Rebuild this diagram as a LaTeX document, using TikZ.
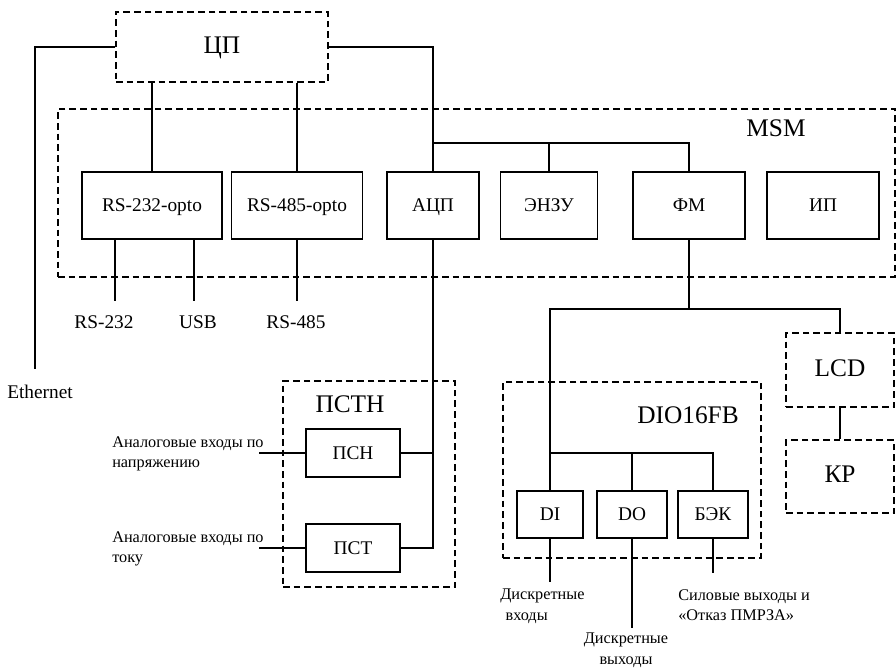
\documentclass[tikz,border=0pt]{standalone}
\usepackage{fontspec}
\setmainfont{Liberation Serif}
\usepackage{tikz}

\tikzset{
  blk/.style={draw, line width=1pt, inner sep=0pt, text height=0.9em, text depth=0pt},
  dblk/.style={blk, dash pattern=on 5pt off 3pt},
  big/.style={font=\fontsize{19}{22}\selectfont},
  mid/.style={font=\fontsize{14.5}{16}\selectfont},
  note/.style={font=\fontsize{12.2}{15.5}\selectfont, align=left, anchor=north west, inner sep=0pt},
  wire/.style={line width=1pt}
}

\begin{document}
\begin{tikzpicture}[x=0.75pt, y=-0.75pt]
  \useasboundingbox (0,0) rectangle (896,669);

  % frames
  \node[dblk, big, minimum width=159pt, minimum height=52.5pt] (cp) at (222,47) {ЦП};
  \node[dblk, minimum width=627.75pt, minimum height=126pt] (msm) at (476.5,193) {};
  \node[big] (msmlbl) at (776,128) {MSM};
  \node[dblk, minimum width=129pt, minimum height=154.5pt] (pstn) at (369,484) {};
  \node[big] (pstnlbl) at (350,404) {ПСТН};
  \node[dblk, minimum width=193.5pt, minimum height=132pt] (dio) at (632,470) {};
  \node[big] (diolbl) at (688,415) {DIO16FB};
  \node[dblk, big, minimum width=81pt, minimum height=55.5pt] (lcd) at (840,370) {LCD};
  \node[dblk, big, minimum width=81pt, minimum height=54.75pt] (kp) at (840,476.5) {КР};

  % modules of MSM
  \node[blk, mid, minimum width=105pt, minimum height=50.25pt] (rs232o) at (152,205.5) {RS-232-opto};
  \node[blk, mid, minimum width=98.25pt, minimum height=50.25pt] (rs485o) at (297,205.5) {RS-485-opto};
  \node[blk, mid, minimum width=69pt, minimum height=50.25pt] (adc) at (433,205.5) {АЦП};
  \node[blk, mid, minimum width=72.75pt, minimum height=50.25pt] (enzu) at (549,205.5) {ЭНЗУ};
  \node[blk, mid, minimum width=84pt, minimum height=50.25pt] (fm) at (689,205.5) {ФМ};
  \node[blk, mid, minimum width=84pt, minimum height=50.25pt] (ip) at (823,205.5) {ИП};

  % converters and I/O
  \node[blk, mid, minimum width=70.5pt, minimum height=36pt] (psn) at (353,453) {ПСН};
  \node[blk, mid, minimum width=70.5pt, minimum height=36pt] (pst) at (353,548) {ПСТ};
  \node[blk, mid, minimum width=49.5pt, minimum height=35.25pt] (di) at (550,514.5) {DI};
  \node[blk, mid, minimum width=52.5pt, minimum height=35.25pt] (do) at (632,514.5) {DO};
  \node[blk, mid, minimum width=52.5pt, minimum height=35.25pt] (bek) at (713,514.5) {БЭК};

  % outer labels
  \node[mid] (l232) at (104,322) {RS-232};
  \node[mid] (lusb) at (198,322) {USB};
  \node[mid] (l485) at (296,322) {RS-485};
  \node[font=\fontsize{14.5}{16}\selectfont] (leth) at (40,392) {Ethernet};
  \node[note] (lu) at (112,436) {Аналоговые входы по\\напряжению};
  \node[note] (li) at (112,531) {Аналоговые входы по\\току};
  \node[note] (ldi) at (500,589) {Дискретные\\\hspace{4pt}входы};
  \node[note, align=center, anchor=north] (ldo) at (626,633) {Дискретные\\выходы};
  \node[note] (lbek) at (678,589) {Силовые выходы и\\«Отказ ПМРЗА»};

  % free ends
  \coordinate (eth) at (35,369);
  \coordinate (t232) at (115,301);
  \coordinate (tusb) at (194,301);
  \coordinate (t485) at (297,301);
  \coordinate (inu) at (259,453);
  \coordinate (ini) at (259,548);
  \coordinate (bus) at (433,143);
  \coordinate (fmbus) at (689,309);
  \coordinate (diobus) at (550,453);
  \coordinate (tdi) at (550,582);
  \coordinate (tdo) at (632,628);
  \coordinate (tbek) at (713,573);

  % connections
  \draw[wire] (cp.west) -| (eth);
  \draw[wire] (cp.east) -| (adc.north);
  \draw[wire] (rs232o.north) -- (rs232o.north |- cp.south);
  \draw[wire] (rs485o.north) -- (rs485o.north |- cp.south);
  \draw[wire] (bus) -| (fm.north);
  \draw[wire] (enzu.north) -- (enzu.north |- bus);
  \draw[wire] (rs232o.south -| t232) -- (t232);
  \draw[wire] (rs232o.south -| tusb) -- (tusb);
  \draw[wire] (rs485o.south) -- (t485);
  \draw[wire] (adc.south) |- (pst.east);
  \draw[wire] (psn.east) -- (psn.east -| adc.south);
  \draw[wire] (inu) -- (psn.west);
  \draw[wire] (ini) -- (pst.west);
  \draw[wire] (fm.south) -- (fmbus);
  \draw[wire] (di.north) |- (fmbus) -| (lcd.north);
  \draw[wire] (diobus) -| (bek.north);
  \draw[wire] (do.north) -- (do.north |- diobus);
  \draw[wire] (lcd.south) -- (kp.north);
  \draw[wire] (di.south) -- (tdi);
  \draw[wire] (do.south) -- (tdo);
  \draw[wire] (bek.south) -- (tbek);
\end{tikzpicture}
\end{document}
